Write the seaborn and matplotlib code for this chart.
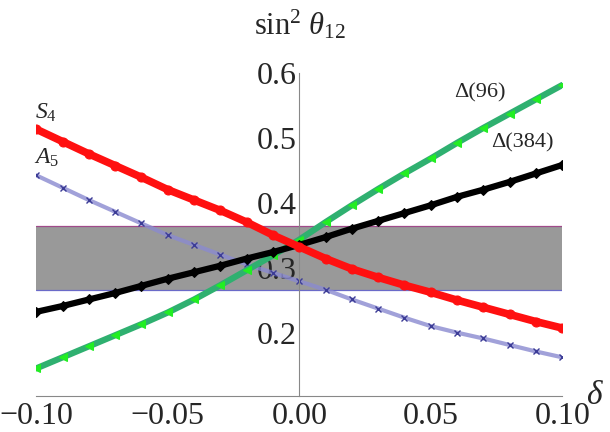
import numpy as np
import pandas as pd
import matplotlib
matplotlib.use("Agg")
import matplotlib.pyplot as plt
import seaborn as sns

# values
delta = [-0.10, -0.09, -0.08, -0.07, -0.06, -0.05, -0.04, -0.03, -0.02, -0.01, 0.00,
         0.01, 0.02, 0.03, 0.04, 0.05, 0.06, 0.07, 0.08, 0.09, 0.10]
s4 = [0.514, 0.495, 0.476, 0.458, 0.440, 0.421, 0.405, 0.389, 0.371, 0.351, 0.333,
      0.315, 0.299, 0.286, 0.274, 0.263, 0.251, 0.240, 0.229, 0.218, 0.208]
a5 = [0.443, 0.424, 0.405, 0.387, 0.369, 0.351, 0.336, 0.321, 0.306, 0.293, 0.280,
      0.267, 0.252, 0.238, 0.224, 0.211, 0.201, 0.192, 0.182, 0.172, 0.163]
d384 = [0.233, 0.242, 0.252, 0.262, 0.273, 0.284, 0.294, 0.304, 0.315, 0.325, 0.336,
        0.348, 0.361, 0.373, 0.385, 0.397, 0.410, 0.421, 0.433, 0.446, 0.459]
d96 = [0.146, 0.163, 0.180, 0.197, 0.214, 0.232, 0.252, 0.274, 0.297, 0.320, 0.344,
       0.371, 0.397, 0.422, 0.446, 0.469, 0.493, 0.516, 0.538, 0.560, 0.582]
band_lo, band_hi = 0.2667, 0.365

x_ticks = [-0.10, -0.05, 0.00, 0.05, 0.10]
x_ticklabels = ["\u22120.10", "\u22120.05", "0.00", "0.05", "0.10"]
y_ticks = [0.2, 0.3, 0.4, 0.5, 0.6]
y_ticklabels = ["0.2", "0.3", "0.4", "0.5", "0.6"]

df = pd.DataFrame({"delta": delta, "S4": s4, "A5": a5, "D384": d384, "D96": d96})

sns.set_style("white")
plt.rcParams["font.family"] = ["Liberation Serif", "DejaVu Serif"]
plt.rcParams["mathtext.fontset"] = "custom"
plt.rcParams["mathtext.rm"] = "Liberation Serif"
plt.rcParams["mathtext.it"] = "Liberation Serif:italic"

fig = plt.figure(figsize=(6.1, 4.32), dpi=100)
ax = fig.add_axes([0.0595, 0.0833, 0.8623, 0.747])
ax.set_axisbelow(True)

# experimental band
ax.axhspan(band_lo, band_hi, color="#999999", lw=0, zorder=0.2)
ax.axhline(band_hi, color="#a04a8a", lw=0.9, zorder=0.3)
ax.axhline(band_lo, color="#6a6ac8", lw=0.9, zorder=0.3)

# A5 - blue crosses
sns.lineplot(data=df, x="delta", y="A5", ax=ax, color="#8a8ad0", lw=3.0, alpha=0.8, zorder=2)
sns.lineplot(data=df, x="delta", y="A5", ax=ax, color="#3c3c96", lw=0, marker="x",
             markersize=5, mew=1.0, mec="#3c3c96", zorder=2)
# Delta(96) - green / teal triangles
sns.lineplot(data=df, x="delta", y="D96", ax=ax, color="#2fb070", lw=4.5, zorder=3)
sns.lineplot(data=df, x="delta", y="D96", ax=ax, color="#22ee22", lw=0, marker="<",
             markersize=6, mec="#22ee22", zorder=3)
# Delta(384) - black diamonds
sns.lineplot(data=df, x="delta", y="D384", ax=ax, color="black", lw=4.5, zorder=4)
sns.lineplot(data=df, x="delta", y="D384", ax=ax, color="black", lw=0, marker="D",
             markersize=5, mec="black", zorder=4)
# S4 - red dots
sns.lineplot(data=df, x="delta", y="S4", ax=ax, color="#ff1010", lw=5.5, zorder=5)
sns.lineplot(data=df, x="delta", y="S4", ax=ax, color="#ff1010", lw=0, marker="o",
             markersize=6.5, mec="#ff1010", zorder=5)

ax.set_xlim(-0.10, 0.10)
ax.set_ylim(0.1035, 0.60)

for side in ["top", "right"]:
    ax.spines[side].set_visible(False)
ax.spines["left"].set_position(("data", 0.0))
ax.spines["left"].set_color("#888888")
ax.spines["bottom"].set_color("#888888")
ax.spines["left"].set_linewidth(0.8)
ax.spines["bottom"].set_linewidth(0.8)

ax.set_xticks(x_ticks)
ax.set_xticklabels(x_ticklabels)
ax.set_yticks(y_ticks)
ax.set_yticklabels(y_ticklabels)
ax.set_xticks(np.arange(-0.10, 0.1001, 0.01), minor=True)
ax.set_yticks(np.arange(0.12, 0.6001, 0.02), minor=True)
ax.tick_params(which="major", direction="in", length=5, width=0.7, color="#888888",
               labelsize=23, pad=2)
ax.tick_params(which="minor", direction="in", length=3, width=0.6, color="#aaaaaa")
ax.tick_params(axis="x", pad=4)
ax.set_xlabel("")
ax.set_ylabel("")

# labels
ax.text(-0.0963, 0.539, "$S_4$", fontsize=17, ha="center", va="center")
ax.text(-0.096, 0.470, "$A_5$", fontsize=17, ha="center", va="center")
ax.text(0.0687, 0.5695, "\u0394(96)", fontsize=16, ha="center", va="center")
ax.text(0.085, 0.4926, "\u0394(384)", fontsize=16, ha="center", va="center")

fig.text(0.492, 0.944, r"$\mathrm{sin}^2\ \theta_{12}$", fontsize=22, ha="center", va="center")
fig.text(0.975, 0.085, r"$\delta$", fontsize=24, ha="center", va="center")

fig.savefig("out.png", dpi=100)
